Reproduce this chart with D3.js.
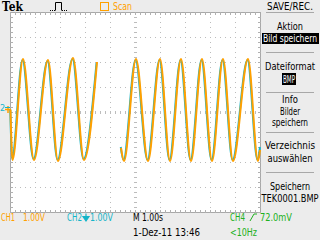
<!DOCTYPE html>
<html><head><meta charset="utf-8">
<script src="https://cdn.jsdelivr.net/npm/d3@7"></script>
<style>
html,body{margin:0;padding:0;background:#ececec;}
svg{display:block;}
text{font-family:"Liberation Sans Narrow","DejaVu Sans Condensed","Liberation Sans",sans-serif;}
</style></head><body>
<svg id="c" width="320" height="240"></svg>
<script>
// ---------- data (time in s, voltage in V) ----------
const ch1Seg1T = [0.02, 0.10, 0.52, 0.96, 1.52, 1.92, 2.52, 2.96, 3.48];
const ch1Seg1V = [0.08, -1.92, 2.12, -1.92, 2.08, -1.96, 2.16, -1.92, 2.00];
const ch1Seg2T = [4.44, 4.56, 5.04, 5.52, 6.00, 6.40, 6.84, 7.24, 7.68, 8.08, 8.52, 8.92, 9.52, 9.92, 10.0];
const ch1Seg2V = [-1.44, -1.96, 2.12, -1.96, 2.12, -1.96, 2.12, -1.96, 2.12, -1.96, 2.12, -1.96, 2.12, -1.96, -1.52];
const ch2Seg1T = [0.01, 0.08, 0.50, 0.94, 1.50, 1.90, 2.50, 2.94, 3.46];
const ch2Seg1V = [0.12, -1.88, 2.08, -1.88, 2.04, -1.92, 2.12, -1.88, 1.96];
const ch2Seg2T = [4.43, 4.54, 5.02, 5.50, 5.98, 6.38, 6.82, 7.22, 7.66, 8.06, 8.50, 8.90, 9.50, 9.90, 10.0];
const ch2Seg2V = [-1.40, -1.92, 2.08, -1.92, 2.08, -1.92, 2.08, -1.92, 2.08, -1.92, 2.08, -1.92, 2.08, -1.92, -1.40];
const menuLabels = ["Aktion", "Bild speichern", "Dateiformat", "BMP", "Info", "Bilder", "speichern", "Verzeichnis", "auswählen", "Speichern", "TEK0001.BMP"];
const ch1Label = ["CH1", "1.00V"];
const ch2Label = ["CH2", "1.00V"];
const timeLabel = "M 1.00s";
const dateLabel = "1-Dez-11 13:46";
const trigLabel = ["CH4", "72.0mV"];
const freqLabel = "<10Hz";

const ORANGE = "#ffa000", CYAN = "#14b4c8", GREEN = "#20b020";
const svg = d3.select("#c");
svg.append("rect").attr("width",320).attr("height",240).attr("fill","#ececec");

const x = d3.scaleLinear().domain([0,10]).range([10,260]);
const y = d3.scaleLinear().domain([-4,4]).range([212,12]);

svg.append("rect").attr("x",x(0)).attr("y",y(4)).attr("width",x(10)-x(0)).attr("height",y(-4)-y(4)).attr("fill","#fff");

const g = svg.append("g").attr("shape-rendering","crispEdges");
const gridC = "#bcbcbc";
g.selectAll(".vg").data(d3.range(1,10).filter(d=>d!==5)).join("line")
  .attr("x1",d=>x(d)+0.5).attr("x2",d=>x(d)+0.5).attr("y1",y(4)).attr("y2",y(-4))
  .attr("stroke",gridC).attr("stroke-dasharray","1,4");
g.selectAll(".hg").data(d3.range(-3,4).filter(d=>d!==0)).join("line")
  .attr("y1",d=>y(d)+0.5).attr("y2",d=>y(d)+0.5).attr("x1",x(0)).attr("x2",x(10))
  .attr("stroke",gridC).attr("stroke-dasharray","1,4");
g.append("line").attr("x1",x(5)+0.5).attr("x2",x(5)+0.5).attr("y1",y(4)).attr("y2",y(-4))
  .attr("stroke",gridC).attr("stroke-width",3).attr("stroke-dasharray","1,4");
g.append("line").attr("y1",y(0)+0.5).attr("y2",y(0)+0.5).attr("x1",x(0)).attr("x2",x(10))
  .attr("stroke",gridC).attr("stroke-width",3).attr("stroke-dasharray","1,4");
g.append("rect").attr("x",x(0)+0.5).attr("y",y(4)+0.5).attr("width",x(10)-x(0)).attr("height",y(-4)-y(4))
  .attr("fill","none").attr("stroke","#a8a8a8");
const tx = d3.range(0,50).map(i=>i*0.2);
const ty = d3.range(0,40).map(i=>-4+i*0.2);
g.selectAll(".tt").data(tx).join("line").attr("x1",d=>x(d)+0.5).attr("x2",d=>x(d)+0.5)
  .attr("y1",y(4)).attr("y2",y(4)+3).attr("stroke","#b0b0b0");
g.selectAll(".tb").data(tx).join("line").attr("x1",d=>x(d)+0.5).attr("x2",d=>x(d)+0.5)
  .attr("y1",y(-4)-2).attr("y2",y(-4)+1).attr("stroke","#b0b0b0");
g.selectAll(".tl").data(ty).join("line").attr("y1",d=>y(d)+0.5).attr("y2",d=>y(d)+0.5)
  .attr("x1",x(0)).attr("x2",x(0)+3).attr("stroke","#b0b0b0");
g.selectAll(".tr").data(ty).join("line").attr("y1",d=>y(d)+0.5).attr("y2",d=>y(d)+0.5)
  .attr("x1",x(10)-2).attr("x2",x(10)+1).attr("stroke","#b0b0b0");

// waveforms
const pts = (T,V)=>T.map((t,i)=>({t, v:V[i]}));
const line = d3.line().x(d=>x(d.t)).y(d=>y(d.v)).curve(d3.curveMonotoneX);
const wf = svg.append("g").attr("fill","none");
[[ch2Seg1T,ch2Seg1V],[ch2Seg2T,ch2Seg2V]].forEach(([T,V])=>
  wf.append("path").attr("d",line(pts(T,V))).attr("stroke",CYAN).attr("stroke-width",2));
[[ch1Seg1T,ch1Seg1V],[ch1Seg2T,ch1Seg2V]].forEach(([T,V])=>
  wf.append("path").attr("d",line(pts(T,V))).attr("stroke",ORANGE).attr("stroke-width",2));

// ground markers
svg.append("text").attr("x",0).attr("y",111).attr("font-size",9).attr("fill",CYAN).text("2");
svg.append("path").attr("d","M5,109.5H11M8,106V113").attr("stroke",ORANGE).attr("stroke-width",1.5).attr("fill","none");
svg.append("path").attr("d","M5,107.5H10").attr("stroke",CYAN).attr("stroke-width",1).attr("fill","none");

function txt(xp, yp, s, o={}){
  const t = svg.append("text").attr("x",xp).attr("y",yp).text(s)
    .attr("font-size",o.size||10).attr("fill",o.color||"#000")
    .attr("text-anchor",o.anchor||"start");
  if(o.w){t.attr("textLength",o.w).attr("lengthAdjust","spacingAndGlyphs");}
  if(o.bold) t.attr("font-weight","bold");
  if(o.family) t.style("font-family",o.family);
  return t;
}

// top bar
txt(2,11,"Tek",{size:13,bold:true,w:21,family:"'DejaVu Serif','Liberation Serif',serif"});
svg.append("path").attr("d","M50,10.5H55").attr("stroke","#000").attr("stroke-dasharray","1,1").attr("fill","none");
svg.append("path").attr("d","M55.5,10.5V2.5H61.5V10.5").attr("stroke","#000").attr("fill","none");
svg.append("path").attr("d","M62,10.5H68").attr("stroke","#000").attr("stroke-dasharray","1,1").attr("fill","none");
svg.append("rect").attr("x",100.5).attr("y",2.5).attr("width",8).attr("height",8).attr("fill","none").attr("stroke",ORANGE);
txt(113,10,"Scan",{size:11,color:ORANGE,w:19});
txt(267,10,"SAVE/REC.",{size:10.5,w:46});
svg.append("line").attr("x1",266).attr("x2",314).attr("y1",12.5).attr("y2",12.5).attr("stroke","#a8a8a8");

// menu
const mc = 290;
svg.append("rect").attr("x",262).attr("y",33).attr("width",57).attr("height",11).attr("fill","#000");
svg.append("rect").attr("x",282).attr("y",73).attr("width",14).attr("height",12).attr("fill","#000");
const menuY = [30,42,70,83,103,114.5,126,149,162,190,202];
const menuW = [26,54,50,12,16,20,36,50,45,40,57];
const menuS = [11,10,10,11,10,10,11,11,11,11,10];
menuLabels.forEach((s,i)=>{
  const white = (i===1||i===3);
  txt(mc+(i===3?-1:0), menuY[i], s, {size:menuS[i], anchor:"middle", color:white?"#fff":"#000", w:menuW[i]});
});
[52,92,132,172].forEach(yy=>svg.append("line").attr("x1",266).attr("x2",314).attr("y1",yy+0.5).attr("y2",yy+0.5).attr("stroke","#a8a8a8"));

// bottom
txt(1,221,ch1Label[0],{size:10.5,color:ORANGE,w:14});
txt(23,221,ch1Label[1],{size:10.5,color:ORANGE,w:22});
txt(67,221,ch2Label[0],{size:10.5,color:CYAN,w:15});
svg.append("path").attr("d","M86,213.5V217M83,216.5H89L86,221Z").attr("stroke",CYAN).attr("fill",CYAN).attr("stroke-width",1.2);
txt(90,221,ch2Label[1],{size:10.5,color:CYAN,w:23});
txt(133,221,timeLabel,{size:10.5,w:30});
txt(133,236,dateLabel,{size:10.5,w:67});
txt(230,221,trigLabel[0],{size:10.5,color:GREEN,w:15});
svg.append("path").attr("d","M250,221L254,214H257").attr("stroke",GREEN).attr("fill","none");
txt(260,221,trigLabel[1],{size:10.5,color:GREEN,w:32});
txt(230,236,freqLabel,{size:10.5,color:GREEN,w:27});
</script>
</body></html>
